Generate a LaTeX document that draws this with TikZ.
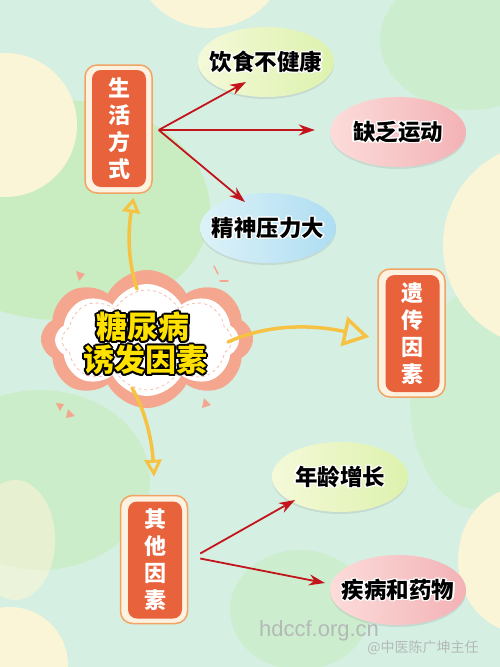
\documentclass[tikz,border=0pt]{standalone}
\usepackage{fontspec}
\newfontfamily\cjk{Noto Sans CJK SC}
\newfontfamily\wm{Liberation Sans}
\usetikzlibrary{arrows.meta,shapes.symbols,shapes.geometric,calc,shadows}
\definecolor{bgc}{HTML}{D5F0E3}
\definecolor{gblob}{HTML}{C9EDC0}
\definecolor{yblob}{HTML}{FAF5D6}
\definecolor{boxred}{HTML}{E8623C}
\definecolor{ringc}{HTML}{F2A464}
\definecolor{ringfill}{HTML}{FDF1E0}
\definecolor{arrred}{HTML}{C3141C}
\definecolor{yel}{HTML}{F6C244}
\definecolor{salmon}{HTML}{F4A78E}
\definecolor{dashc}{HTML}{F3BFB0}
\definecolor{txtyel}{HTML}{FFE100}
\definecolor{gA}{HTML}{F4F9D8}
\definecolor{gB}{HTML}{DDF2AE}
\definecolor{pA}{HTML}{FCDCDA}
\definecolor{pB}{HTML}{F3B2B6}
\definecolor{bA}{HTML}{DDF2F8}
\definecolor{bB}{HTML}{AEDDF2}
\definecolor{wmc}{HTML}{B4B9B8}
\newcommand{\halo}[6]{%
  \foreach \ang in {0,30,...,330}{\node[font=#2,text=#3,align=center] at ($(#1)+(\ang:#6)$) {#5};}
  \node[font=#2,text=#4,align=center] at (#1) {#5};}
\begin{document}
\begin{tikzpicture}[x=1pt,y=-1pt,
  box/.style={rounded corners=9pt, fill=boxred, minimum width=54pt, minimum height=117pt, inner sep=0pt, text=white, font=\cjk\bfseries\fontsize{22}{27}\selectfont, align=center},
  boxring/.style={rounded corners=12pt, draw=ringc, line width=1.5pt, fill=ringfill, minimum width=67pt, minimum height=128pt},
  oval/.style={ellipse, minimum width=136pt, minimum height=70pt, inner sep=0pt, drop shadow={shadow xshift=0pt, shadow yshift=-2pt, opacity=0.18}},
  redarr/.style={draw=arrred, line width=1.8pt, -{Stealth[length=16pt,width=11pt]}},
  yarr/.style={draw=yel, line width=3.5pt, line cap=round},
  deco/.style={fill=salmon, draw=none},
]
\useasboundingbox (0,0) rectangle (500,667);
% background
\fill[bgc] (0,0) rectangle (500,667);
\begin{scope}
\clip (0,0) rectangle (500,667);
\fill[gblob] (60,210) ellipse (150 and 110);
\fill[gblob, opacity=0.7] (40,480) ellipse (110 and 90);
\fill[gblob, opacity=0.6] (300,610) ellipse (70 and 60);
\fill[gblob, opacity=0.6] (470,40) ellipse (90 and 70);
\fill[gblob, opacity=0.5] (480,400) ellipse (70 and 110);
\fill[yblob] (210,-50) circle (78);
\fill[yblob] (5,125) circle (72);
\fill[yblob] (545,245) circle (102);
\fill[yblob] (520,560) ellipse (62 and 72);
\fill[yblob] (10,665) circle (58);
\fill[yblob, opacity=0.6] (15,540) ellipse (40 and 60);
\end{scope}
% boxes
\node[boxring] (lsO) at (118.5,129) {};
\node[box] (ls) at (119,128.5) {生\\活\\方\\式};
\node[boxring] (geO) at (411.5,333) {};
\node[box] (ge) at (412.5,333.5) {遗\\传\\因\\素};
\node[boxring] (otO) at (154,559.5) {};
\node[box] (ot) at (155,560) {其\\他\\因\\素};
% ovals
\node[oval, left color=gA, right color=gB] (diet) at (266,62) {};
\node[oval, left color=pA, right color=pB] (lack) at (398,132) {};
\node[oval, left color=bA, right color=bB] (stress) at (268,228) {};
\node[oval, left color=gA, right color=gB] (age) at (340,477) {};
\node[oval, left color=pA, right color=pB] (dis) at (398,590) {};
\halo{diet.center}{\cjk\bfseries\fontsize{22.5}{25}\selectfont}{white}{black}{饮食不健康}{1.3}
\halo{lack.center}{\cjk\bfseries\fontsize{22.5}{25}\selectfont}{white}{black}{缺乏运动}{1.3}
\halo{stress.center}{\cjk\bfseries\fontsize{22.5}{25}\selectfont}{white}{black}{精神压力大}{1.3}
\halo{age.center}{\cjk\bfseries\fontsize{22.5}{25}\selectfont}{white}{black}{年龄增长}{1.3}
\halo{dis.center}{\cjk\bfseries\fontsize{22.5}{25}\selectfont}{white}{black}{疾病和药物}{1.3}
% red arrows
\coordinate (s1) at ($(lsO.east)+(6,1)$);
\draw[redarr] (s1) -- ($(diet.center)+(-20,20)$);
\draw[redarr] (s1) -- ($(lack.west)+(-15,-2)$);
\draw[redarr] (s1) -- ($(stress.center)+(-23,-26)$);
\coordinate (s2) at ($(otO.east)+(12,-6)$);
\coordinate (s3) at ($(otO.east)+(12,-1)$);
\draw[redarr] (s2) -- ($(age.center)+(-45,23)$);
\draw[redarr] (s3) -- ($(dis.center)+(-73,-7)$);
% cloud
\node[cloud, cloud puffs=8, cloud puff arc=125, cloud ignores aspect, minimum width=212pt, minimum height=138pt, fill=salmon] (cloud) at (147,339) {};
\node[cloud, cloud puffs=8, cloud puff arc=125, cloud ignores aspect, minimum width=184pt, minimum height=112pt, fill=white] (cloudW) at (147,340) {};
\node[cloud, cloud puffs=8, cloud puff arc=125, cloud ignores aspect, minimum width=170pt, minimum height=100pt, draw=dashc, dashed, line width=0.8pt] (cloudD) at (147,340) {};
\halo{$(cloud.center)+(-4,-12)$}{\cjk\bfseries\fontsize{31}{34}\selectfont}{black}{txtyel}{糖尿病}{2}
\halo{$(cloud.center)+(-2,21)$}{\cjk\bfseries\fontsize{31}{34}\selectfont}{black}{txtyel}{诱发因素}{2}
% decorations
\fill[deco] (76,271) -- (85,274) -- (79,281) -- cycle;
\draw[salmon, line width=1.5pt, line cap=round] (214,266) -- (218,274);
\draw[salmon, line width=1.5pt, line cap=round] (220,281) -- (228,281);
\fill[deco] (56,403) -- (64,404) -- (60,411) -- cycle;
\fill[deco] (68,409) -- (75,416) -- (66,418) -- cycle;
\fill[deco] (204,398) -- (211,405) -- (202,408) -- cycle;
% yellow arrows
\draw[yarr, -{Triangle[open, length=15pt, width=18pt, line width=3pt]}] ($(cloud.center)+(-10,-50)$) .. controls (126,255) and (129,225) .. ($(lsO.south)+(15,4)$);
\draw[yarr, -{Triangle[open, length=26pt, width=30pt, line width=3.5pt]}] ($(cloud.center)+(81,3)$) .. controls (270,323) and (315,325) .. ($(geO.west)+(-8,4)$);
\draw[yarr, -{Triangle[open, length=17pt, width=17pt, line width=3pt]}] ($(cloud.center)+(-15,49)$) .. controls (145,410) and (152,440) .. ($(otO.north)+(0,-18)$);
% watermark
\node[font=\wm\fontsize{22}{24}\selectfont, text=wmc] (wm1) at (319,631) {hdccf.org.cn};
\node[font=\cjk\fontsize{14}{16}\selectfont, text=wmc] (wm2) at (423,648) {@中医陈广坤主任};
\end{tikzpicture}
\end{document}
